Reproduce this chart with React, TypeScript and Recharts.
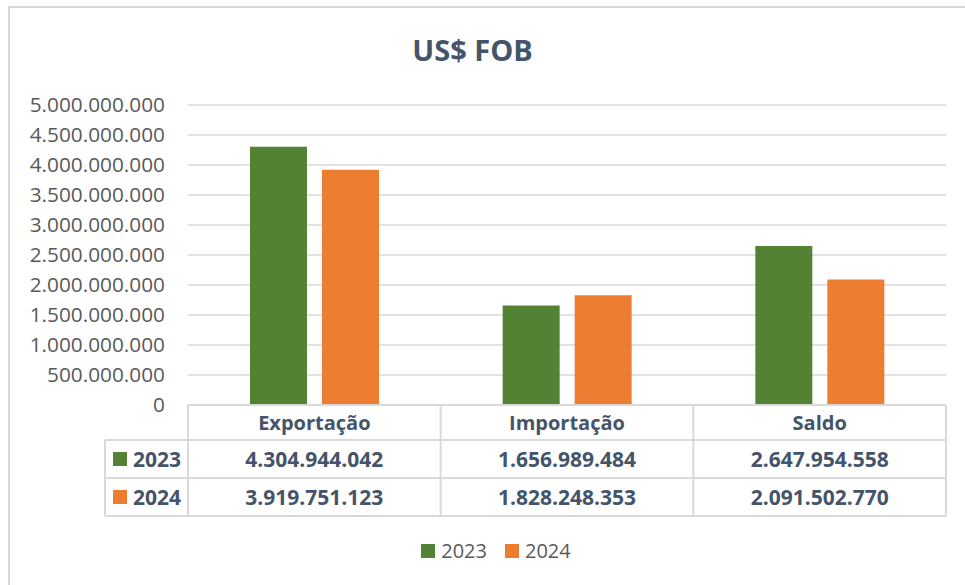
import React from 'react'
import { BarChart, Bar, XAxis, YAxis, CartesianGrid, Legend } from 'recharts'

const categories = ['Exportação', 'Importação', 'Saldo']
const years = ['2023', '2024']
const values2023 = [4304944042, 1656989484, 2647954558]
const values2024 = [3919751123, 1828248353, 2091502770]
const yTicks = [0, 500000000, 1000000000, 1500000000, 2000000000, 2500000000, 3000000000, 3500000000, 4000000000, 4500000000, 5000000000]

const data = categories.map((name, i) => ({ name, y2023: values2023[i], y2024: values2024[i] }))
const seriesValues = [values2023, values2024]

const GREEN = '#548235'
const ORANGE = '#ED7D31'
const SLATE = '#44546A'
const GREY_TEXT = '#595959'
const LINE = '#d9d9d9'
const FONT = '"Open Sans", sans-serif'

const W = 965
const H = 585
const PLOT_LEFT = 188
const PLOT_RIGHT = 946
const TABLE_TOP = 405
const ROW1 = 440
const ROW2 = 478
const TABLE_BOTTOM = 516
const LEFT_COL = 105
const BAND = (PLOT_RIGHT - PLOT_LEFT) / categories.length

const fmt = (n: number) => String(Math.round(n)).replace(/\B(?=(\d{3})+(?!\d))/g, '.')

const TableTick = ({ x, payload }: any) => {
  const i = payload.index
  const left = x - BAND / 2
  const rowMid = [(ROW1 + ROW2) / 2, (ROW2 + TABLE_BOTTOM) / 2]
  return (
    <g>
      {i === 0 && (
        <g>
          <line x1={PLOT_LEFT} x2={PLOT_RIGHT} y1={TABLE_TOP} y2={TABLE_TOP} stroke={LINE} strokeWidth={2} />
          {[ROW1, ROW2, TABLE_BOTTOM].map((yy) => (
            <line key={yy} x1={LEFT_COL} x2={PLOT_RIGHT} y1={yy} y2={yy} stroke={LINE} strokeWidth={2} />
          ))}
          <line x1={LEFT_COL} x2={LEFT_COL} y1={ROW1} y2={TABLE_BOTTOM} stroke={LINE} strokeWidth={2} />
          {years.map((yr, k) => (
            <g key={yr}>
              <rect x={113} y={rowMid[k] - 7} width={14} height={14} fill={k === 0 ? GREEN : ORANGE} />
              <text x={133} y={rowMid[k]} dy="0.36em" fill={SLATE} fontSize={21} fontWeight={700} fontFamily={FONT}>{yr}</text>
            </g>
          ))}
        </g>
      )}
      <line x1={left} x2={left} y1={TABLE_TOP} y2={TABLE_BOTTOM} stroke={LINE} strokeWidth={2} />
      {i === categories.length - 1 && (
        <line x1={left + BAND} x2={left + BAND} y1={TABLE_TOP} y2={TABLE_BOTTOM} stroke={LINE} strokeWidth={2} />
      )}
      <text x={x} y={(TABLE_TOP + ROW1) / 2} dy="0.36em" textAnchor="middle" fill={SLATE} fontSize={20} fontWeight={700} fontFamily={FONT}>
        {payload.value}
      </text>
      {seriesValues.map((vals, k) => (
        <text key={k} x={x} y={rowMid[k]} dy="0.36em" textAnchor="middle" fill={SLATE} fontSize={21} fontWeight={700} fontFamily={FONT}>
          {fmt(vals[i])}
        </text>
      ))}
    </g>
  )
}

const LegendContent = ({ payload }: any) => (
  <div style={{ display: 'flex', justifyContent: 'center', gap: 18, paddingTop: 23, paddingLeft: 38 }}>
    {(payload || []).map((p: any) => (
      <div key={p.value} style={{ display: 'flex', alignItems: 'center', gap: 6 }}>
        <span style={{ width: 14, height: 14, background: p.color, display: 'inline-block' }} />
        <span style={{ fontSize: 20, color: GREY_TEXT, fontFamily: FONT, lineHeight: '24px' }}>{p.value}</span>
      </div>
    ))}
  </div>
)

export default function App() {
  return (
    <div style={{ position: 'fixed', left: 0, top: 0, width: W, height: H, overflow: 'hidden', background: '#fff' }}>
      <div style={{ position: 'absolute', left: 8, top: 6, width: 1100, height: 800, border: `2px solid ${LINE}`, boxSizing: 'border-box' }} />
      <div style={{ position: 'absolute', left: 0, top: 30, width: 945, textAlign: 'center', fontFamily: FONT, fontWeight: 700, fontSize: 29, color: SLATE }}>
        US$ FOB
      </div>
      <div style={{ position: 'absolute', left: 0, top: 0 }}>
        <BarChart width={W} height={H} data={data} margin={{ top: 105, right: W - PLOT_RIGHT, left: 8, bottom: 20 }} barSize={57} barGap={15}>
          <CartesianGrid vertical={false} stroke={LINE} strokeWidth={1.5} />
          <XAxis dataKey="name" height={TABLE_BOTTOM - TABLE_TOP} axisLine={false} tickLine={false} interval={0} tick={<TableTick />} />
          <YAxis
            width={PLOT_LEFT - 8}
            domain={[0, 5000000000]}
            ticks={yTicks}
            axisLine={false}
            tickLine={false}
            tickMargin={17}
            tickFormatter={fmt}
            tick={{ fill: GREY_TEXT, fontSize: 20.8, fontFamily: FONT }}
          />
          <Legend verticalAlign="bottom" wrapperStyle={{ height: 49 }} content={<LegendContent />} />
          <Bar dataKey="y2023" name="2023" fill={GREEN} isAnimationActive={false} />
          <Bar dataKey="y2024" name="2024" fill={ORANGE} isAnimationActive={false} />
        </BarChart>
      </div>
    </div>
  )
}
